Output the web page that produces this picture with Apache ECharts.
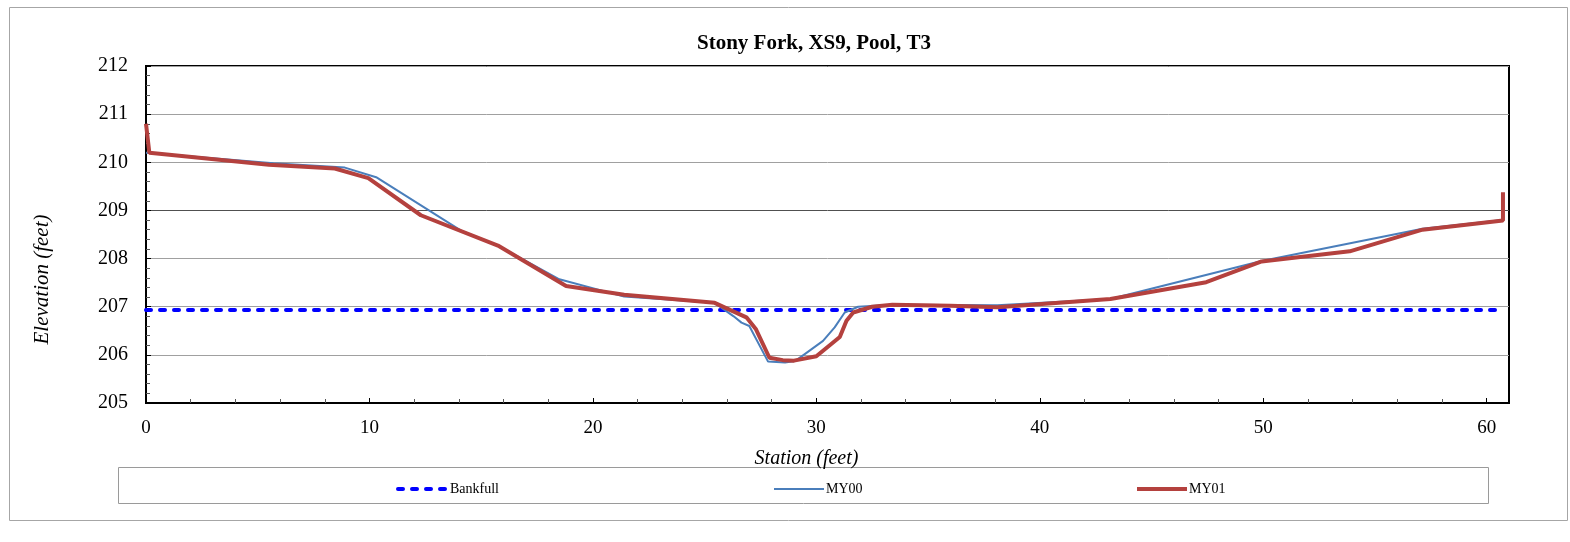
<!DOCTYPE html>
<html>
<head>
<meta charset="utf-8">
<script src="https://cdn.jsdelivr.net/npm/echarts@6/dist/echarts.min.js"></script>
<style>
  html, body { margin: 0; padding: 0; background: #fff; }
  #chart { width: 1570px; height: 542px; }
</style>
</head>
<body>
<div id="chart"></div>
<script>
// cross-section survey data (station ft, elevation ft)
const bankfullStation = [0, 60.73];
const bankfullElev = [206.93, 206.93];

const my00Station = [0, 5.7, 8.9, 10.3, 14.1, 15.75, 18.5, 21.4, 25.45, 26.3, 26.65, 27.0, 27.84, 28.6, 29.05, 30.3, 30.82, 31.27, 31.87, 33.4, 38.1, 43.16, 49.93, 57.13, 60.73];
const my00Elev = [210.2, 209.98, 209.89, 209.69, 208.58, 208.27, 207.57, 207.21, 207.08, 206.8, 206.67, 206.6, 205.86, 205.84, 205.87, 206.29, 206.57, 206.88, 207.0, 207.04, 207.03, 207.16, 207.95, 208.62, 208.8];

const my01Station = [0, 0.15, 5.5, 8.45, 9.95, 12.3, 15.75, 18.8, 21.4, 25.45, 26.87, 27.3, 27.9, 28.5, 29.0, 30.0, 31.05, 31.35, 31.65, 32.5, 33.4, 36.0, 38.1, 43.16, 47.45, 49.93, 53.87, 57.13, 60.73, 60.73];
const my01Elev = [210.8, 210.2, 209.95, 209.87, 209.67, 208.9, 208.27, 207.43, 207.25, 207.08, 206.78, 206.53, 205.94, 205.89, 205.88, 205.97, 206.37, 206.71, 206.88, 207.0, 207.04, 207.02, 206.99, 207.16, 207.51, 207.94, 208.15, 208.6, 208.79, 209.38];

const yTicks = [205, 206, 207, 208, 209, 210, 211, 212];

const pairs = (xs, ys) => xs.map((x, i) => [x, ys[i]]);

const font = '"Liberation Serif", "Times New Roman", serif';

const BANKFULL_DASH = [5, 9];

const chart = echarts.init(document.getElementById('chart'));

// one legend per entry so they can sit where the original put them
const legendItem = (name, left, lineStyle) => ({
  data: [name],
  left: left,
  top: 477,
  itemWidth: 50,
  itemHeight: 10,
  itemGap: 0,
  itemStyle: { opacity: 0 },
  lineStyle: lineStyle,
  textStyle: { fontFamily: font, fontSize: 14, color: '#000', padding: [0, 0, 0, -3] },
  selectedMode: false,
});

chart.setOption({
  animation: false,
  textStyle: { fontFamily: font },
  title: {
    text: 'Stony Fork, XS9, Pool, T3',
    left: 692,
    top: 28,
    textStyle: { fontFamily: font, fontSize: 21, fontWeight: 'bold', color: '#000' },
  },
  graphic: [
    {
      type: 'rect',
      shape: { x: 9.5, y: 7.5, width: 1558, height: 513 },
      style: { fill: 'none', stroke: '#a6a6a6', lineWidth: 1 },
      silent: true,
    },
    {
      type: 'rect',
      shape: { x: 118.5, y: 467.5, width: 1370, height: 36 },
      style: { fill: 'none', stroke: '#9a9a9a', lineWidth: 1 },
      silent: true,
    },
  ],
  legend: [
    legendItem('Bankfull', 391, { width: 4, type: BANKFULL_DASH, cap: 'round' }),
    legendItem('MY00', 768, { width: 2 }),
    legendItem('MY01', 1130, { width: 4 }),
  ],
  grid: {
    left: 146,
    right: 61,
    top: 66,
    bottom: 139,
    show: true,
    borderColor: '#000',
    borderWidth: 2,
  },
  xAxis: {
    type: 'value',
    min: 0,
    max: 61,
    interval: 10,
    name: 'Station (feet)',
    nameLocation: 'middle',
    nameGap: 46,
    nameTextStyle: { fontFamily: font, fontSize: 20, fontStyle: 'italic', color: '#000', padding: [0, 42, 0, 0] },
    axisLine: { show: true, onZero: false, lineStyle: { color: '#000', width: 2 } },
    axisTick: { show: true, inside: true, length: 5, lineStyle: { color: '#000' } },
    minorTick: { show: true, splitNumber: 5, length: 4, lineStyle: { color: '#555' } },
    axisLabel: { fontFamily: font, fontSize: 19, color: '#000', margin: 16, showMaxLabel: false },
    splitLine: { show: false },
  },
  yAxis: {
    type: 'value',
    min: yTicks[0],
    max: yTicks[yTicks.length - 1],
    interval: 1,
    name: 'Elevation (feet)',
    nameLocation: 'middle',
    nameGap: 93,
    nameTextStyle: { fontFamily: font, fontSize: 21, fontStyle: 'italic', color: '#000', padding: [0, 90, 0, 0] },
    axisLine: { show: true, lineStyle: { color: '#000', width: 2 } },
    axisTick: { show: true, inside: true, length: 5, lineStyle: { color: '#000' } },
    minorTick: { show: true, splitNumber: 5, length: 4, lineStyle: { color: '#555' } },
    axisLabel: { fontFamily: font, fontSize: 20, color: '#000', margin: 18 },
    splitLine: {
      show: true,
      lineStyle: {
        color: ['#a0a0a0', '#a0a0a0', '#a0a0a0', '#a0a0a0', '#505050', '#a0a0a0', '#a0a0a0', '#a0a0a0'],
        width: 1,
      },
    },
  },
  series: [
    {
      name: 'Bankfull',
      type: 'line',
      data: pairs(bankfullStation, bankfullElev),
      symbol: 'none',
      lineStyle: { color: '#0000ff', width: 4, type: BANKFULL_DASH, cap: 'round' },
      itemStyle: { color: '#0000ff' },
      z: 2,
    },
    {
      name: 'MY00',
      type: 'line',
      data: pairs(my00Station, my00Elev),
      symbol: 'none',
      lineStyle: { color: '#4a7ebb', width: 2 },
      itemStyle: { color: '#4a7ebb' },
      z: 3,
    },
    {
      name: 'MY01',
      type: 'line',
      data: pairs(my01Station, my01Elev),
      symbol: 'none',
      lineStyle: { color: '#b4413e', width: 4 },
      itemStyle: { color: '#b4413e' },
      z: 4,
    },
  ],
});
</script>
</body>
</html>
